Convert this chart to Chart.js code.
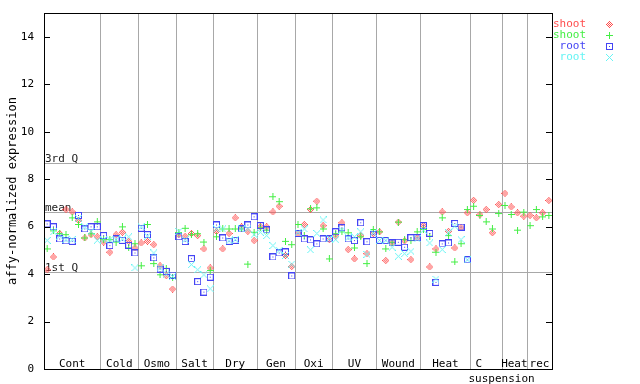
<!DOCTYPE html>
<html><head><meta charset="utf-8">
<script src="https://cdn.jsdelivr.net/npm/chart.js@4.4.1/dist/chart.umd.min.js"></script>
<style>html,body{margin:0;padding:0;background:#fff;}#wrap{width:640px;height:384px;}</style>
</head><body><div id="wrap"><canvas id="c" width="640" height="384"></canvas></div>
<script>
// ---- data ----
const categories = ["Cont","Cold","Osmo","Salt","Dry","Gen","Oxi","UV","Wound","Heat","C suspension","Heat","rec"];
const sampleCounts = [9,6,6,6,7,6,6,7,7,8,5,4,4];
const yTicks = [0,2,4,6,8,10,12,14];
const refLabels = ["3rd Q","mean","1st Q"];
const refValues = [8.7,6.63,4.1];
const seriesNames = ["shoot","shoot","root","root"];

const shootRed = [4.18,4.72,5.71,6.72,6.62,6.27,5.52,5.66,5.57,
  5.35,4.92,5.66,5.76,5.38,5.1,
  5.31,5.38,5.24,4.35,3.93,3.37,
  5.66,5.59,5.71,5.62,5.06,4.26,
  5.8,5.06,5.71,6.37,5.99,5.8,5.41,
  5.99,5.99,6.62,6.86,4.78,4.32,
  5.71,6.09,6.72,7.07,6.04,5.45,
  5.6,6.16,5.03,4.64,5.62,4.86,5.71,
  5.78,4.57,5.31,6.19,5.4,4.61,5.53,
  6.04,4.3,5.06,6.62,5.8,5.1,5.95,6.58,
  7.11,6.5,6.72,5.74,6.93,
  7.4,6.83,6.58,6.44,
  6.47,6.37,6.58,7.1];
const shootGreen = [5.06,5.82,5.71,5.66,6.37,6.09,5.52,5.7,6.2,
  5.45,5.45,5.35,5.99,5.1,5.28,
  4.35,6.09,4.44,3.97,4.24,3.85,
  5.75,5.93,5.66,5.7,5.35,4.15,
  5.57,5.9,5.9,5.9,5.9,4.42,5.76,
  5.95,5.85,7.26,7.05,5.38,5.24,
  6.09,5.62,6.75,6.79,5.9,4.64,
  5.7,5.78,5.74,5.1,5.57,4.44,5.88,
  5.78,5.06,5.34,6.19,5.45,5.41,5.78,
  5.88,5.6,4.92,6.37,5.62,4.51,5.28,6.72,
  6.86,6.47,6.2,5.9,6.55,
  6.89,6.51,5.85,6.61,
  6.04,6.72,6.41,6.47];
const rootBlue = [6.11,5.99,5.48,5.4,5.38,6.47,5.9,5.99,5.99,
  5.62,5.2,5.48,5.42,5.21,4.89,
  5.93,5.66,4.68,4.21,4.11,3.96,
  5.57,5.37,4.65,3.68,3.24,3.87,
  6.07,5.52,5.38,5.42,5.9,6.07,6.41,
  6.04,5.86,4.72,4.89,4.93,3.92,
  5.71,5.48,5.44,5.27,5.48,5.48,
  5.78,5.95,5.48,5.41,6.16,5.36,5.67,
  5.42,5.41,5.31,5.34,5.13,5.53,5.53,
  6.04,5.71,3.65,5.27,5.31,6.13,5.98,4.6,
  null,null,null,null,null,
  null,null,null,null,
  null,null,null,null];
const rootCyan = [5.42,5.78,5.6,5.45,5.45,6.35,5.99,5.8,5.42,
  5.45,5.45,5.45,5.48,5.57,4.26,
  5.99,5.6,4.89,4.26,4.0,3.9,
  5.8,5.45,4.4,4.18,3.97,3.38,
  5.9,5.9,5.4,5.45,5.9,5.9,5.66,
  5.76,5.62,5.2,5.0,4.78,4.42,
  5.75,5.9,5.02,5.71,6.28,5.5,
  5.45,5.85,5.53,5.57,5.78,4.83,5.74,
  5.42,5.42,5.13,4.75,4.86,4.96,5.48,
  5.85,5.31,3.79,5.03,5.74,6.02,5.45,4.6,
  null,null,null,null,null,
  null,null,null,null,
  null,null,null,null];

// ---- styles ----
const COLORS = ['#ff4d4d','#44ee44','#4444f4','#66f4f4'];
const GRID = '#a8a8a8';
const FONT = '11px "DejaVu Sans Mono", monospace';

function marker(kind, color){
  const c = document.createElement('canvas'); c.width = 7; c.height = 7;
  const g = c.getContext('2d'); g.fillStyle = color;
  for (let y=0;y<7;y++) for (let x=0;x<7;x++){
    const dx=x-3, dy=y-3; let on=false;
    if (kind==='diamond') on = (Math.abs(dx)+Math.abs(dy)<=3) && ((dx+dy+6)%2===1);
    if (kind==='plus') on = (dx===0 || dy===0);
    if (kind==='square') on = (x===0||x===6||y===0||y===6) || (dx===0&&dy===0);
    if (kind==='x') on = (Math.abs(dx)===Math.abs(dy));
    if (on) g.fillRect(x,y,1,1);
  }
  return c;
}
const markerKinds = ['diamond','plus','square','x'];
const markers = markerKinds.map((k,i)=>marker(k,COLORS[i]));

const totalSamples = sampleCounts.reduce((a,b)=>a+b,0);
const boundaries = []; { let s=0; for (const n of sampleCounts){ s+=n; boundaries.push(s);} }
const toPts = arr => arr.map((v,i)=> v==null?null:{x:i+0.5,y:v}).filter(p=>p);
const allSeries = [shootRed, shootGreen, rootBlue, rootCyan];

const px = v => Math.round(v)+0.5;

const decor = {
  id:'decor',
  beforeDatasetsDraw(chart){
    const {ctx, chartArea:a, scales:{x,y}} = chart;
    ctx.save();
    ctx.strokeStyle = GRID; ctx.lineWidth = 1;
    ctx.beginPath();
    boundaries.slice(0,-1).forEach(b=>{ const X=px(x.getPixelForValue(b)); ctx.moveTo(X,a.top); ctx.lineTo(X,a.bottom); });
    refValues.forEach(v=>{ const Y=px(y.getPixelForValue(v)); ctx.moveTo(a.left,Y); ctx.lineTo(a.right,Y); });
    ctx.stroke();
    ctx.fillStyle = '#222'; ctx.font = FONT; ctx.textAlign='left'; ctx.textBaseline='alphabetic';
    refValues.forEach((v,i)=>{ const Y=Math.round(y.getPixelForValue(v)); ctx.fillText(refLabels[i], a.left+1, Y-1); });
    ctx.restore();
  },
  afterDatasetsDraw(chart){
    const {ctx, chartArea:a, scales:{x,y}} = chart;
    ctx.save();
    ctx.strokeStyle = '#000'; ctx.lineWidth = 1;
    ctx.strokeRect(px(a.left), px(a.top), Math.round(a.right-a.left), Math.round(a.bottom-a.top));
    ctx.beginPath();
    yTicks.forEach(t=>{ const Y=px(y.getPixelForValue(t));
      ctx.moveTo(a.left,Y); ctx.lineTo(a.left+6,Y);
      ctx.moveTo(a.right-6,Y); ctx.lineTo(a.right,Y); });
    ctx.stroke();
    ctx.fillStyle = '#000'; ctx.font = FONT;
    ctx.textAlign='right'; ctx.textBaseline='middle';
    yTicks.forEach(t=>{ ctx.fillText(String(t), a.left-10, y.getPixelForValue(t)); });
    // y title
    ctx.save();
    ctx.translate(13, (a.top+a.bottom)/2);
    ctx.rotate(-Math.PI/2);
    ctx.textAlign='center'; ctx.textBaseline='middle';
    ctx.font = '12px "DejaVu Sans Mono", monospace';
    ctx.fillText('affy-normalized expression',0,0);
    ctx.restore();
    // category labels
    ctx.textBaseline='alphabetic';
    let s=0;
    categories.forEach((name,i)=>{
      const start=s, end=s+sampleCounts[i]; s=end;
      const cx = x.getPixelForValue((start+end)/2);
      const parts = name.split(' ');
      if (parts.length>1){
        const lx = x.getPixelForValue(start);
        ctx.textAlign='left';
        ctx.fillText(parts[0], lx+5, a.bottom-2);
        ctx.fillText(parts.slice(1).join(' '), lx-2, a.bottom+13);
      } else {
        ctx.textAlign='center';
        ctx.fillText(name, cx, a.bottom-2);
      }
    });
    // legend
    seriesNames.forEach((n,i)=>{
      const Y = 24 + i*11;
      ctx.fillStyle = COLORS[i]; ctx.textAlign='right'; ctx.textBaseline='middle';
      ctx.fillText(n, 586, Y);
      ctx.drawImage(markers[i], 606, Y-3);
    });
    ctx.restore();
  }
};

new Chart(document.getElementById('c'), {
  type:'scatter',
  data:{ datasets: allSeries.map((arr,i)=>({
    label: seriesNames[i], data: toPts(arr), pointStyle: markers[i],
    borderColor: COLORS[i], backgroundColor: COLORS[i], order: 3-i
  })) },
  options:{
    responsive:false, animation:false, devicePixelRatio:1,
    layout:{padding:{left:44,right:88,top:13,bottom:15}},
    plugins:{legend:{display:false}, tooltip:{enabled:false}},
    scales:{
      x:{type:'linear', min:0, max:totalSamples, display:false},
      y:{type:'linear', min:0, max:15, display:false}
    }
  },
  plugins:[decor]
});
</script></body></html>
